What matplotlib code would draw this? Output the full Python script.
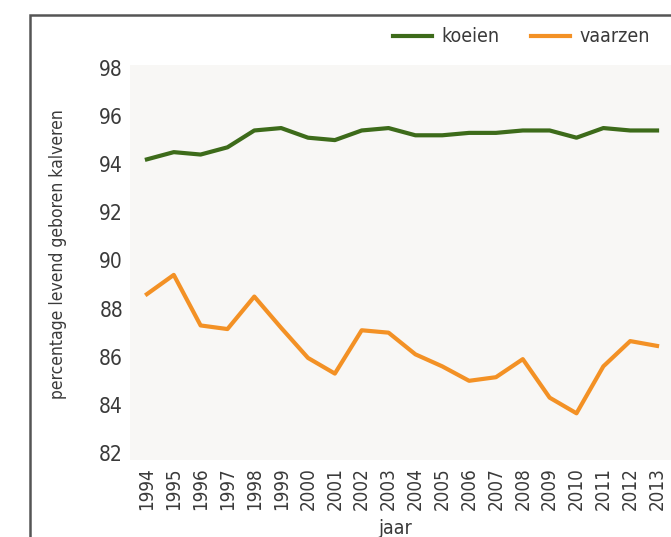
import matplotlib
matplotlib.use('Agg')
import matplotlib.pyplot as plt
from matplotlib.patches import Rectangle
from matplotlib import font_manager

# Data
years = list(range(1994, 2014))
koeien = [94.2, 94.5, 94.4, 94.7, 95.4, 95.5, 95.1, 95.0, 95.4, 95.5,
          95.2, 95.2, 95.3, 95.3, 95.4, 95.4, 95.1, 95.5, 95.4, 95.4]
vaarzen = [88.6, 89.4, 87.3, 87.15, 88.5, 87.2, 85.95, 85.3, 87.1, 87.0,
           86.1, 85.6, 85.0, 85.15, 85.9, 84.3, 83.65, 85.6, 86.65, 86.45]
yticks = [82, 84, 86, 88, 90, 92, 94, 96, 98]

# Prefer a narrow face if one is installed
names = {f.name for f in font_manager.fontManager.ttflist}
condensed = [f for f in font_manager.fontManager.ttflist
             if 'Condensed' in f.fname]
if 'Liberation Sans Narrow' in names:
    plt.rcParams['font.family'] = ['Liberation Sans Narrow', 'DejaVu Sans']
elif condensed:
    plt.rcParams['font.family'] = [condensed[0].name, 'DejaVu Sans']
    plt.rcParams['font.stretch'] = 'condensed'
else:
    plt.rcParams['font.family'] = ['DejaVu Sans']
text_color = '#3a3a3a'

fig = plt.figure(figsize=(6.71, 5.37), dpi=100)
fig.patch.set_facecolor('white')

# Outer frame of the scanned figure
fig.patches.append(Rectangle((30 / 671, -0.2), 1.2, 0.2 + 1 - 15 / 537,
                             transform=fig.transFigure, fill=False,
                             edgecolor='#555555', linewidth=1.8))

ax = fig.add_axes([130 / 671, 1 - 460 / 537, 1 - 130 / 671, (460 - 65) / 537])
ax.set_facecolor('#f8f7f5')
ax.plot(years, koeien, color='#3d6b1a', linewidth=3, label='koeien')
ax.plot(years, vaarzen, color='#f39125', linewidth=3, label='vaarzen')

ax.set_xlim(1993.37, 2013.52)
ax.set_ylim(81.71, 98.12)
ax.set_yticks(yticks)
ax.set_yticklabels([str(v) for v in yticks], fontsize=15, color=text_color)
ax.set_xticks(years)
ax.set_xticklabels([str(y) for y in years], rotation=90, fontsize=13.5,
                   color=text_color)
ax.tick_params(axis='y', length=0, pad=5)
ax.tick_params(axis='x', length=0, pad=5)
for s in ax.spines.values():
    s.set_visible(False)

fig.text(58 / 671, 1 - 254 / 537, 'percentage levend geboren kalveren',
         fontsize=12.5, color=text_color, rotation=90,
         ha='center', va='center')
fig.text(395 / 671, 1 - 528 / 537, 'jaar', fontsize=14, color=text_color,
         ha='center', va='center')

fig.legend(loc='center right', bbox_to_anchor=(650 / 671, 1 - 37 / 537),
           ncol=2, frameon=False, fontsize=14, handlelength=2.0,
           handletextpad=0.5, columnspacing=1.6, borderpad=0,
           borderaxespad=0, labelcolor=text_color)

fig.savefig('out.png', dpi=100)
